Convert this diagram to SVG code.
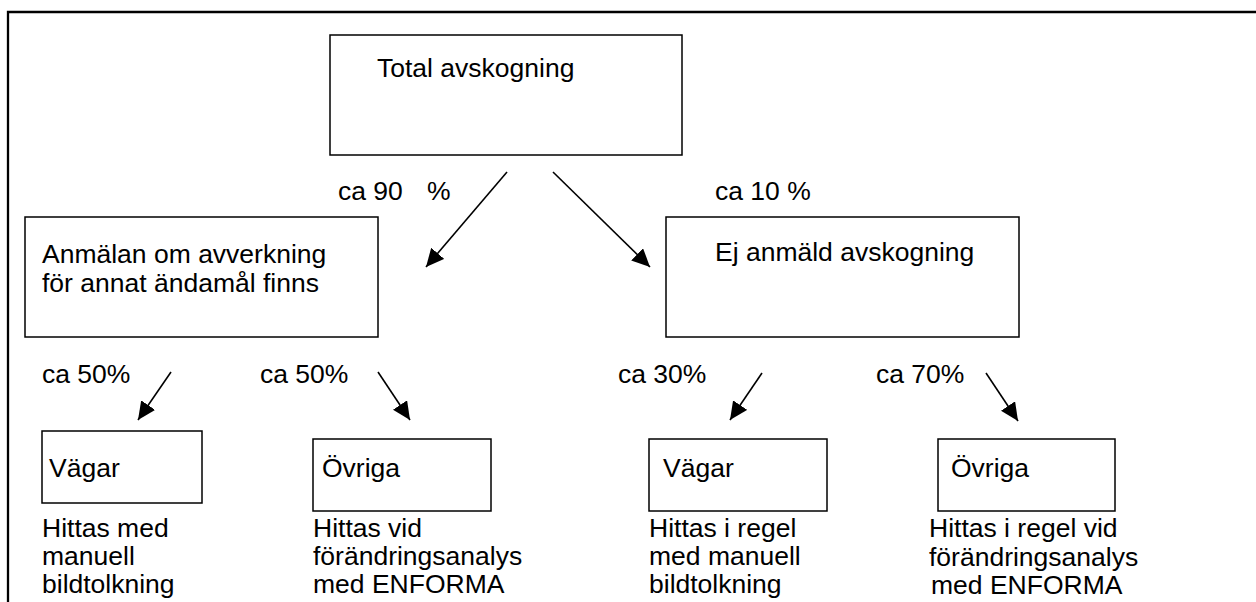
<svg xmlns="http://www.w3.org/2000/svg" width="1256" height="602" viewBox="0 0 1256 602">
<style>
text{font-family:"Liberation Sans",Arial,sans-serif;font-size:26.5px;fill:#000}
.box{fill:#fff;stroke:#000;stroke-width:1.5}
.arr{stroke:#000;stroke-width:1.6;fill:none;marker-end:url(#ah)}
</style>
<defs>
<marker id="ah" viewBox="0 0 18 17" refX="18" refY="8.5" markerWidth="18" markerHeight="17" orient="auto" markerUnits="userSpaceOnUse"><path d="M0,0 L18,8.5 L0,17 z" fill="#000"/></marker>
</defs>
<rect width="1256" height="602" fill="#fff"/>
<path d="M8,602 V12 H1256" fill="none" stroke="#000" stroke-width="2.3"/>
<g id="total"><rect class="box" x="330" y="35" width="352" height="120"/><text x="377" y="77">Total avskogning</text></g>
<g id="anmalan"><rect class="box" x="25" y="217" width="353" height="120"/><text x="42" y="263">Anmälan om avverkning</text><text x="42" y="292">för annat ändamål finns</text></g>
<g id="ej"><rect class="box" x="666" y="217" width="353" height="120"/><text x="715" y="261">Ej anmäld avskogning</text></g>
<g id="vagar1"><rect class="box" x="42" y="431" width="160" height="72"/><text x="49" y="477">Vägar</text><text x="42" y="537">Hittas med</text><text x="42" y="565">manuell</text><text x="42" y="593">bildtolkning</text></g>
<g id="ovriga1"><rect class="box" x="313" y="439" width="178" height="72"/><text x="322" y="477">Övriga</text><text x="313" y="537">Hittas vid</text><text x="313" y="565">förändringsanalys</text><text x="313" y="593">med ENFORMA</text></g>
<g id="vagar2"><rect class="box" x="649" y="439" width="178" height="72"/><text x="663" y="477">Vägar</text><text x="649" y="537">Hittas i regel</text><text x="649" y="565">med manuell</text><text x="649" y="593">bildtolkning</text></g>
<g id="ovriga2"><rect class="box" x="938" y="439" width="177" height="72"/><text x="951" y="477">Övriga</text><text x="929" y="537">Hittas i regel vid</text><text x="929" y="566">förändringsanalys</text><text x="931" y="594">med ENFORMA</text></g>
<g id="labels">
<text x="338" y="200">ca 90<tspan x="427">%</tspan></text>
<text x="715" y="200">ca 10 %</text>
<text x="42" y="383">ca 50%</text>
<text x="260" y="383">ca 50%</text>
<text x="618" y="383">ca 30%</text>
<text x="876" y="383">ca 70%</text>
</g>
<g id="connectors">
<line class="arr" x1="507" y1="172" x2="426" y2="267"/>
<line class="arr" x1="553" y1="172" x2="650" y2="267"/>
<line class="arr" x1="171" y1="372" x2="138" y2="420"/>
<line class="arr" x1="378" y1="372" x2="410" y2="420"/>
<line class="arr" x1="762" y1="373" x2="730" y2="420"/>
<line class="arr" x1="986" y1="373" x2="1018" y2="421"/>
</g>
</svg>
